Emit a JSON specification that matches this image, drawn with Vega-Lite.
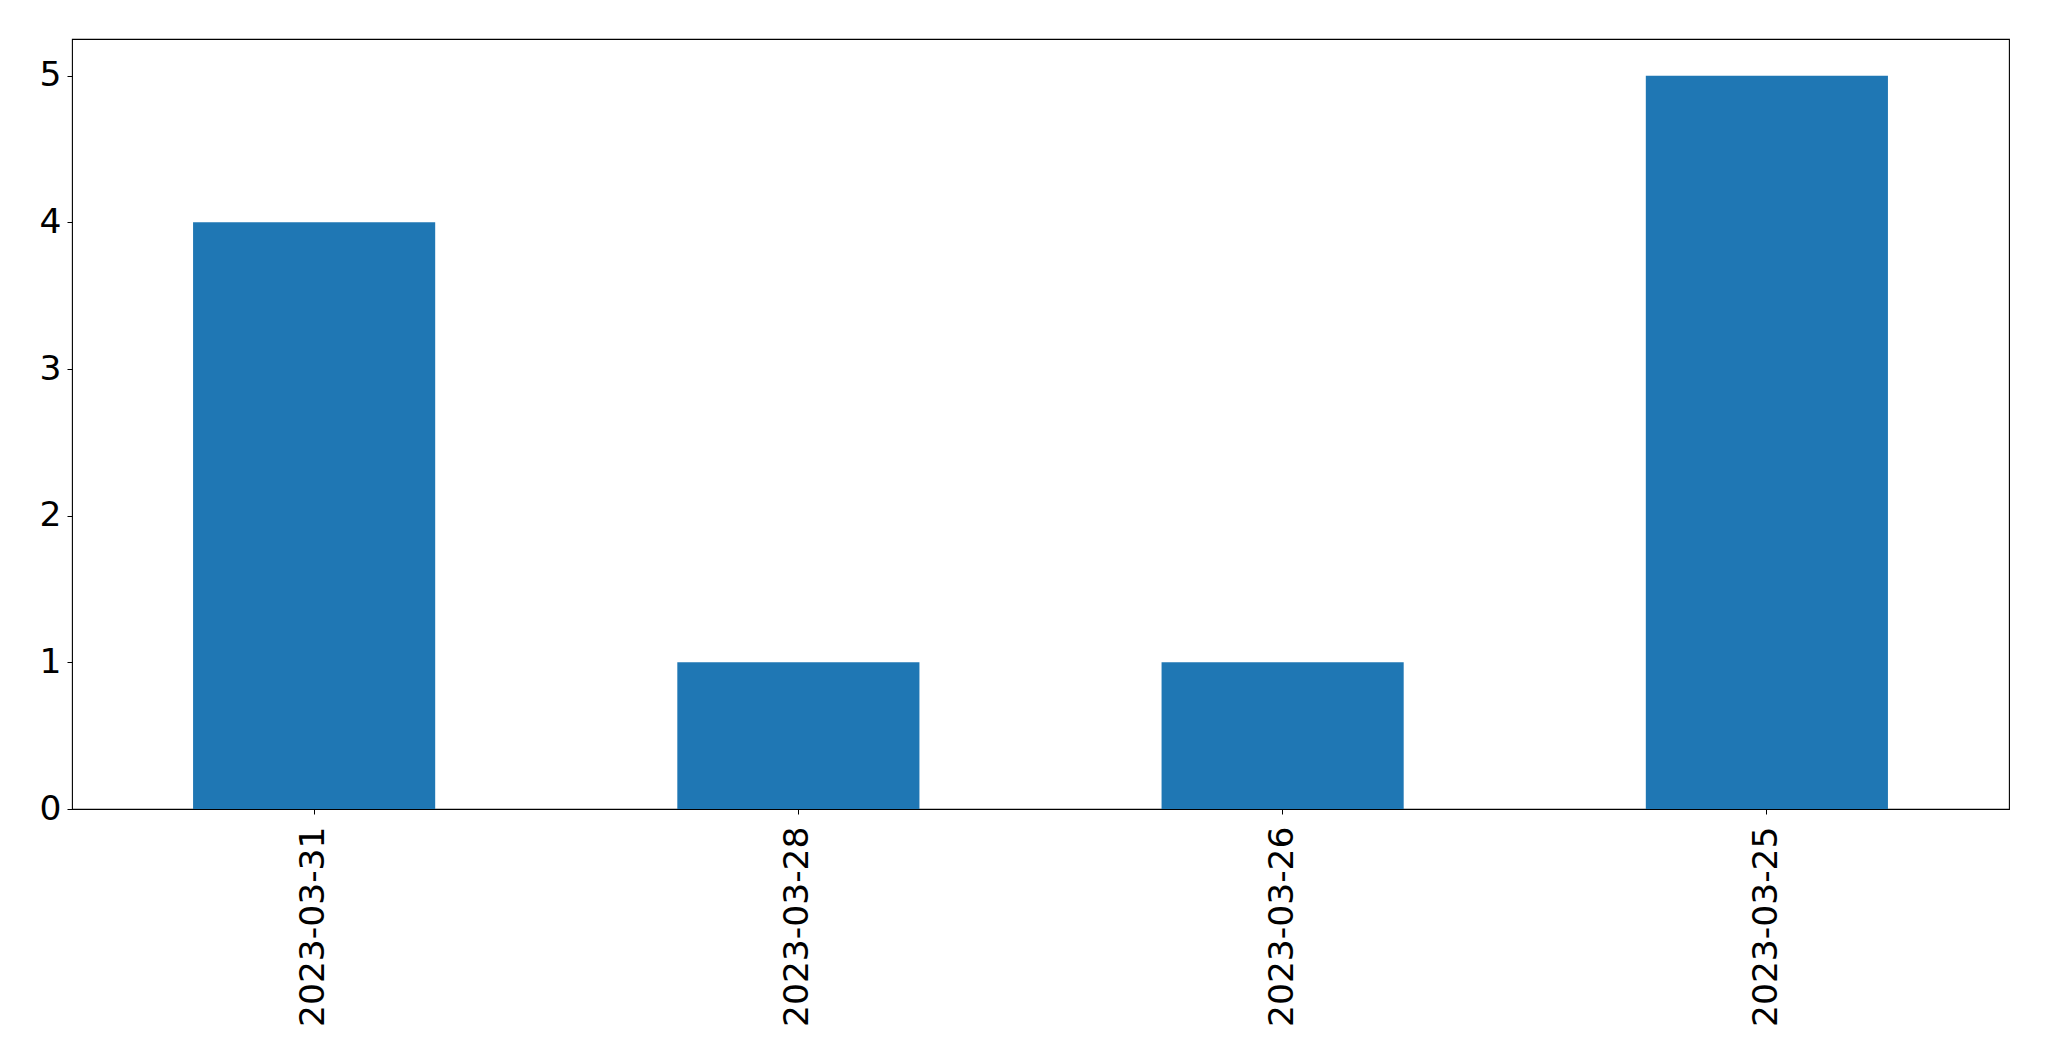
{
  "$schema": "https://vega.github.io/schema/vega-lite/v6.json",
  "autosize": "none",
  "width": 1937,
  "height": 770,
  "padding": {"left": 72, "top": 39, "right": 40, "bottom": 252},
  "background": "white",
  "data": {"values": [
    {"date": "2023-03-31", "count": 4},
    {"date": "2023-03-28", "count": 1},
    {"date": "2023-03-26", "count": 1},
    {"date": "2023-03-25", "count": 5}
  ]},
  "mark": {"type": "bar", "color": "#1f77b4"},
  "encoding": {
    "x": {
      "field": "date", "type": "nominal", "sort": null,
      "scale": {"paddingInner": 0.5, "paddingOuter": 0.25},
      "axis": {"title": null, "labelAngle": -90, "labelFontSize": 34.5, "labelFont": "DejaVu Sans", "labelColor": "black", "labelLimit": 0,
               "tickColor": "black", "tickSize": 5, "tickWidth": 1, "labelPadding": 12, "domain": false, "grid": false}
    },
    "y": {
      "field": "count", "type": "quantitative",
      "scale": {"domain": [0, 5.25], "nice": false, "zero": true},
      "axis": {"title": null, "values": [0, 1, 2, 3, 4, 5], "labelFontSize": 34.5, "labelFont": "DejaVu Sans", "labelColor": "black",
               "tickColor": "black", "tickSize": 5, "tickWidth": 1, "labelPadding": 6, "domain": false, "grid": false}
    }
  },
  "config": {
    "view": {"stroke": "black", "strokeWidth": 1.1}
  }
}
